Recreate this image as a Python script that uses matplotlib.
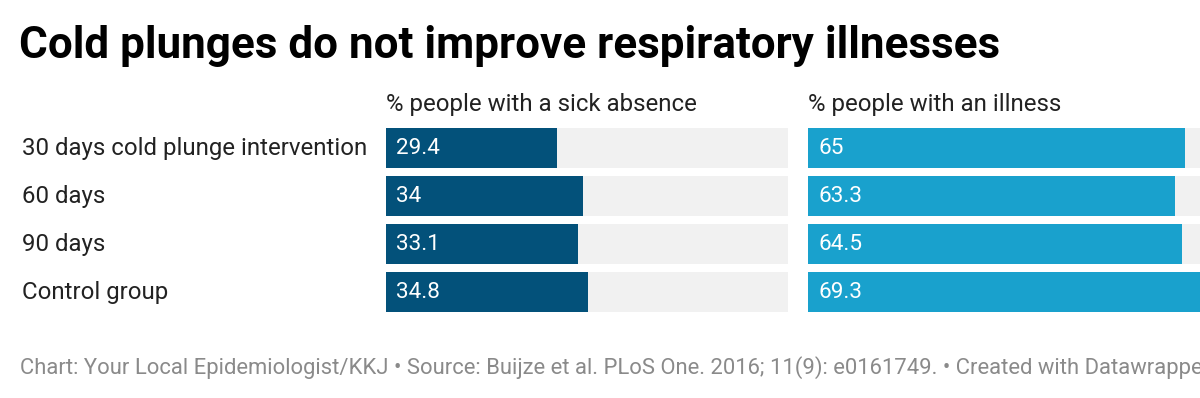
import matplotlib
matplotlib.use('Agg')
import matplotlib.pyplot as plt

# data
groups = ['30 days cold plunge intervention', '60 days', '90 days', 'Control group']
sick_absence = [29.4, 34, 33.1, 34.8]
illness = [65, 63.3, 64.5, 69.3]
value_labels_absence = ['29.4', '34', '33.1', '34.8']
value_labels_illness = ['65', '63.3', '64.5', '69.3']
headers = ['% people with a sick absence', '% people with an illness']

plt.rcParams['font.family'] = ['Roboto', 'DejaVu Sans']

W, H = 1200, 398
fig = plt.figure(figsize=(W / 100, H / 100), dpi=100)
fig.patch.set_facecolor('white')

PT = 0.72  # px -> pt at dpi 100
xmax = max(max(sick_absence), max(illness))

def px_box(x0, y0, w, h):
    return [x0 / W, 1 - (y0 + h) / H, w / W, h / H]

panels = [(386, sick_absence, value_labels_absence, '#03517a', headers[0]),
          (808, illness, value_labels_illness, '#19a1cd', headers[1])]

for x0, vals, labs, col, head in panels:
    ax = fig.add_axes(px_box(x0, 124, 402, 192))
    ypos = list(range(len(groups)))
    ax.barh(ypos, [xmax] * len(groups), height=40 / 48, color='#f1f1f1', zorder=1)
    ax.barh(ypos, vals, height=40 / 48, color=col, zorder=2)
    for y, lab in zip(ypos, labs):
        ax.text(xmax * 10 / 402, y + 0.02, lab, color='white', fontsize=22.5 * PT,
                va='center', ha='left', zorder=3)
    ax.set_xlim(0, xmax)
    ax.set_ylim(3.5, -0.5)
    ax.axis('off')
    fig.text(x0 / W, 1 - 104 / H, head, fontsize=24 * PT, color='#222222',
             va='center', ha='left')

for i, g in enumerate(groups):
    fig.text(22 / W, 1 - (149 + 48 * i) / H, g, fontsize=24 * PT,
             color='#222222', va='center', ha='left')

fig.text(19 / W, 1 - 46 / H, 'Cold plunges do not improve respiratory illnesses',
         fontsize=44 * PT, fontweight='bold', color='black', va='center', ha='left')

fig.text(20 / W, 1 - 368 / H,
         'Chart: Your Local Epidemiologist/KKJ \u2022 Source: Buijze et al. PLoS One. 2016; 11(9): e0161749. \u2022 Created with Datawrapper',
         fontsize=22 * PT, color='#8a8a8a', va='center', ha='left')

fig.savefig('out.png', dpi=100, facecolor='white')
